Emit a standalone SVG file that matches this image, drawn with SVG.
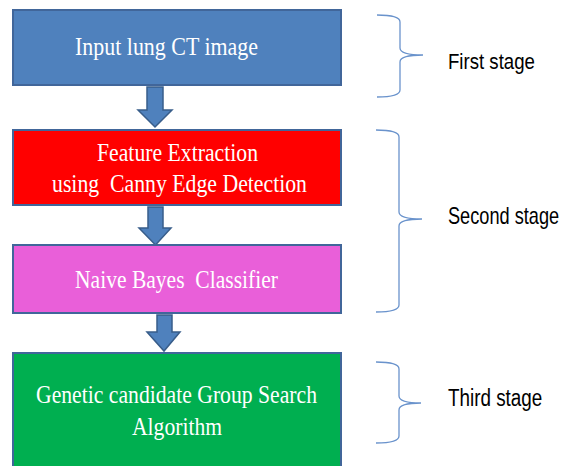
<svg xmlns="http://www.w3.org/2000/svg" width="563" height="466" viewBox="0 0 563 466">
<style>
.box{stroke:#41669A;stroke-width:2}
.bt{font-family:"Liberation Serif","Times New Roman",serif;font-size:26px;fill:#ffffff;white-space:pre}
.st{font-family:"Liberation Sans",Arial,sans-serif;font-size:23px;fill:#000000}
.arr{fill:#4F81BD;stroke:#385D8A;stroke-width:1.5}
.brace{fill:none;stroke:#6A93CC;stroke-width:1.3}
</style>
<rect width="563" height="466" fill="#ffffff"/>
<g id="connectors">
<path class="arr" d="M147,87 L163,87 L163,110 L172,110 L155,127 L138,110 L147,110 Z"/>
<path class="arr" d="M148,207 L163,207 L163,228 L171,228 L155.5,245 L139,228 L148,228 Z"/>
<path class="arr" d="M157,315 L172,315 L172,332 L180,332 L164,351 L147,332 L157,332 Z"/>
</g>
<g id="node1">
<rect class="box" x="13" y="10" width="328" height="75" fill="#4F81BD"/>
<text class="bt" x="75" y="55" textLength="183" lengthAdjust="spacingAndGlyphs">Input lung CT image</text>
</g>
<g id="node2">
<rect class="box" x="13" y="130" width="328" height="75" fill="#FF0000"/>
<text class="bt" x="97" y="160.5" textLength="161" lengthAdjust="spacingAndGlyphs">Feature Extraction</text>
<text class="bt" x="52" y="191.5" textLength="255" lengthAdjust="spacingAndGlyphs">using  Canny Edge Detection</text>
</g>
<g id="node3">
<rect class="box" x="13" y="245" width="328" height="68" fill="#E95FD9"/>
<text class="bt" x="75" y="287.5" textLength="203" lengthAdjust="spacingAndGlyphs">Naive Bayes  Classifier</text>
</g>
<g id="node4">
<rect class="box" x="13" y="353" width="328" height="120" fill="#00AF50"/>
<text class="bt" x="36" y="403" textLength="281" lengthAdjust="spacingAndGlyphs">Genetic candidate Group Search</text>
<text class="bt" x="132" y="435" textLength="90" lengthAdjust="spacingAndGlyphs">Algorithm</text>
</g>
<g id="stage1">
<path class="brace" d="M377,15 Q400,15 400,22 L400,48 Q400,55 423,55 Q400,55 400,62 L400,90 Q400,97 377,97"/>
<text class="st" transform="translate(448,69) scale(0.81,1)">First stage</text>
</g>
<g id="stage2">
<path class="brace" d="M376,130 Q399,130 399,137 L399,212 Q399,219 422,219 Q399,219 399,226 L399,305 Q399,312 376,312"/>
<text class="st" transform="translate(448,224) scale(0.79,1)">Second stage</text>
</g>
<g id="stage3">
<path class="brace" d="M376,362 Q399,362 399,369 L399,396 Q399,403 421,403 Q399,403 399,410 L399,436 Q399,443 376,443"/>
<text class="st" transform="translate(448,406) scale(0.82,1)">Third stage</text>
</g>
</svg>
